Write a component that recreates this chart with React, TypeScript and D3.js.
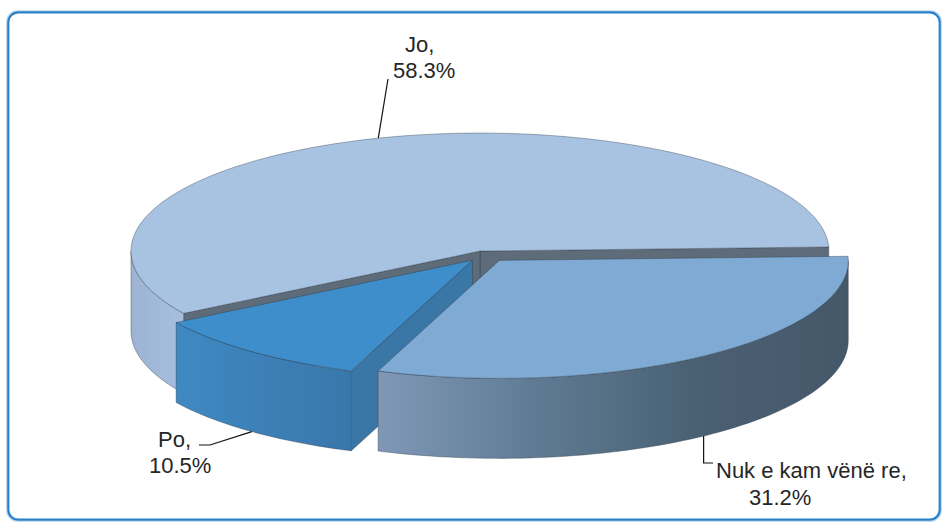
import React from 'react';
import * as d3 from 'd3';

// Survey answers (share of respondents, %)
const categories = ['Jo', 'Po', 'Nuk e kam vënë re'];
const values = [58.3, 10.5, 31.2];

// Slice colours: top face, outer wall gradient (left -> right), cut face
const topColors = ['#a8c2e1', '#3e8ecb', '#7eaad3'];
const wallStops = [
  ['#9cb3d4', '#a7bedd'],
  ['#3f89c2', '#3977ab'],
  ['#7f98b6', '#5f7b94', '#4a6173', '#45586a'],
];
const faceColors = ['#5e6b78', '#3a77a6', '#4f6577'];

// Label placement: text line origins and leader elbow points
const labelLayout = [
  { lines: [[405, 52], [393, 78]], leader: [[388, 79]] },
  { lines: [[158, 447], [149, 473]], leader: [[210, 445], [199, 445]] },
  { lines: [[716, 478], [749, 505]], leader: [['anchor', 463], [713, 463]] },
];

const W = 948;
const H = 526;
const CX = 486.4;
const CY = 256.1;
const RX = 349;
const RY = 118;
const DEPTH = 80;
const EXPLODE = 22;
const EXPLODE_Y = 0.24;
const START_DEG = 2;

const rad = (d: number) => (d * Math.PI) / 180;

function pt(ax: number, ay: number, deg: number, z: number): [number, number] {
  const t = rad(deg);
  return [ax + RX * Math.cos(t), ay - RY * Math.sin(t) + z];
}

function arcPts(ax: number, ay: number, a0: number, a1: number, z: number): [number, number][] {
  const n = Math.max(2, Math.ceil(Math.abs(a1 - a0) / 1.5));
  return d3.range(n + 1).map((i) => pt(ax, ay, a0 + ((a1 - a0) * i) / n, z));
}

const closed = d3.line().curve(d3.curveLinearClosed);
const open = d3.line();

export default function App() {
  const arcs = d3
    .pie<number>()
    .sort(null)
    .value((d) => d)(values);

  const slices = arcs.map((a, i) => {
    const a0 = START_DEG + (a.startAngle * 180) / Math.PI;
    const a1 = START_DEG + (a.endAngle * 180) / Math.PI;
    const mid = (a0 + a1) / 2;
    const ax = CX + EXPLODE * Math.cos(rad(mid));
    const ay = CY - EXPLODE * EXPLODE_Y * Math.sin(rad(mid));
    return { i, a0, a1, mid, ax, ay };
  });

  // Paint from the back of the pie toward the front
  const frontDist = (m: number) => Math.abs((((m - 270) % 360) + 540) % 360 - 180);
  const order = [...slices].sort((p, q) => frontDist(q.mid) - frontDist(p.mid));

  const edge = { stroke: '#2f3b48', strokeOpacity: 0.55, strokeWidth: 0.7, strokeLinejoin: 'round' as const };

  return (
    <svg
      width={W}
      height={H}
      style={{ position: 'absolute', left: 0, top: 0, background: '#ffffff' }}
      fontFamily="'Liberation Sans', Arial, sans-serif"
    >
      <defs>
        {slices.map((s) => {
          const v0 = Math.max(s.a0, 180);
          const v1 = Math.min(s.a1, 360);
          const xs = v1 > v0 ? arcPts(s.ax, s.ay, v0, v1, 0).map((p) => p[0]) : [0, 1];
          const stops = wallStops[s.i];
          return (
            <linearGradient
              key={s.i}
              id={`wall-${s.i}`}
              gradientUnits="userSpaceOnUse"
              x1={d3.min(xs)}
              x2={d3.max(xs)}
              y1={0}
              y2={0}
            >
              {stops.map((c, k) => (
                <stop key={k} offset={k / (stops.length - 1)} stopColor={c} />
              ))}
            </linearGradient>
          );
        })}
      </defs>

      <rect x={6.8} y={10.8} width={934.4} height={510.4} rx={11} fill="none" stroke="#b7d5f0" strokeWidth={1.2} />
      <rect x={8.3} y={12.3} width={931.4} height={507.4} rx={10} fill="none" stroke="#2a80c9" strokeWidth={2.2} />

      {order.map((s) => {
        const faces: React.ReactNode[] = [];
        // radial cut faces that point toward the viewer
        const startNormal = Math.sin(rad(s.a0 - 90));
        const endNormal = Math.sin(rad(s.a1 + 90));
        [
          [s.a0, startNormal],
          [s.a1, endNormal],
        ].forEach(([ang, nrm], k) => {
          if (nrm < 0) {
            const p1 = pt(s.ax, s.ay, ang, 0);
            const p2 = pt(s.ax, s.ay, ang, DEPTH);
            faces.push(
              <path
                key={`f${k}`}
                d={closed([[s.ax, s.ay], p1, p2, [s.ax, s.ay + DEPTH]]) as string}
                fill={faceColors[s.i]}
                {...edge}
              />
            );
          }
        });
        const v0 = Math.max(s.a0, 180);
        const v1 = Math.min(s.a1, 360);
        const wall =
          v1 > v0 ? (
            <path
              d={closed([...arcPts(s.ax, s.ay, v0, v1, 0), ...arcPts(s.ax, s.ay, v1, v0, DEPTH)]) as string}
              fill={`url(#wall-${s.i})`}
              {...edge}
            />
          ) : null;
        const top = (
          <path
            d={closed([[s.ax, s.ay], ...arcPts(s.ax, s.ay, s.a0, s.a1, 0)]) as string}
            fill={topColors[s.i]}
            {...edge}
          />
        );
        return (
          <g key={s.i}>
            {faces}
            {wall}
            {top}
          </g>
        );
      })}

      {slices.map((s) => {
        const layout = labelLayout[s.i];
        const z = Math.sin(rad(s.mid)) > 0 ? 0 : DEPTH;
        const anchor = pt(s.ax, s.ay, s.mid, z);
        const pts: [number, number][] = [
          anchor,
          ...layout.leader.map(([x, y]) => [x === 'anchor' ? anchor[0] : (x as number), y as number] as [number, number]),
        ];
        const texts = [`${categories[s.i]},`, `${values[s.i].toFixed(1)}%`];
        return (
          <g key={`l${s.i}`}>
            <path d={open(pts) as string} fill="none" stroke="#111" strokeWidth={1.2} />
            {texts.map((t, k) => (
              <text key={k} x={layout.lines[k][0]} y={layout.lines[k][1]} fontSize={22} fill="#262626">
                {t}
              </text>
            ))}
          </g>
        );
      })}
    </svg>
  );
}
